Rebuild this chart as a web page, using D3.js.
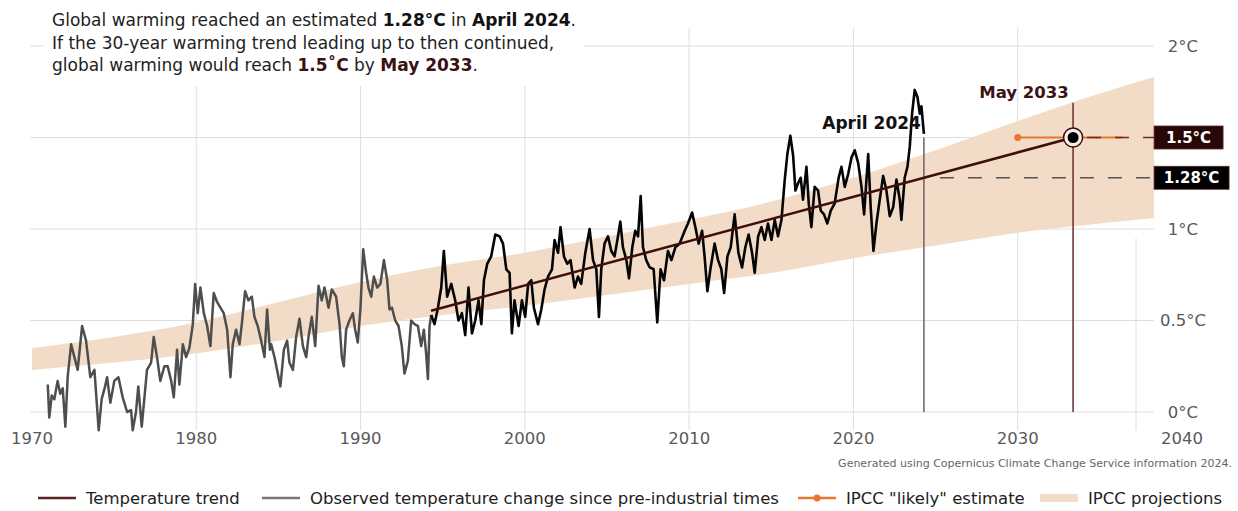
<!DOCTYPE html>
<html>
<head>
<meta charset="utf-8">
<script src="https://cdn.jsdelivr.net/npm/d3@7"></script>
<style>
  body { margin: 0; background: #fff; }
  svg { display: block; font-family: "DejaVu Sans", Verdana, sans-serif; }
</style>
</head>
<body>
<svg id="chart" width="1238" height="511"></svg>
<script>
// Observed global temperature change vs. pre-industrial (°C), [decimal year, anomaly]
const observedEarly = [
  [1970.96,0.15],[1971.05,-0.03],[1971.2,0.09],[1971.36,0.07],[1971.56,0.17],[1971.72,0.10],[1971.87,0.13],
  [1972.03,-0.08],[1972.17,0.19],[1972.38,0.37],[1972.58,0.30],[1972.78,0.23],[1973.05,0.47],[1973.29,0.39],
  [1973.55,0.19],[1973.8,0.23],[1974.06,-0.10],[1974.24,0.07],[1974.45,0.14],[1974.57,0.19],[1974.77,0.05],
  [1975.01,0.17],[1975.26,0.19],[1975.52,0.08],[1975.79,0.00],[1976.03,0.01],[1976.13,-0.10],[1976.33,0.00],
  [1976.47,0.14],[1976.68,-0.08],[1977.0,0.23],[1977.25,0.27],[1977.41,0.41],[1977.61,0.30],[1977.81,0.17],
  [1978.06,0.25],[1978.26,0.25],[1978.47,0.17],[1978.63,0.08],[1978.83,0.34],[1978.97,0.15],[1979.18,0.37],
  [1979.38,0.30],[1979.58,0.35],[1979.79,0.48],[1979.93,0.70],[1980.09,0.54],[1980.25,0.68],[1980.46,0.54],
  [1980.66,0.47],[1980.86,0.36],[1981.06,0.65],[1981.27,0.60],[1981.47,0.57],[1981.67,0.54],[1981.88,0.45],
  [1982.08,0.19],[1982.22,0.37],[1982.42,0.45],[1982.63,0.37],[1982.77,0.48],[1982.97,0.66],[1983.17,0.61],
  [1983.38,0.63],[1983.54,0.52],[1983.74,0.47],[1983.95,0.39],[1984.15,0.30],[1984.31,0.56],[1984.48,0.34],
  [1984.56,0.37],[1984.76,0.30],[1984.96,0.21],[1985.12,0.14],[1985.33,0.34],[1985.53,0.39],[1985.67,0.27],
  [1985.88,0.23],[1986.08,0.41],[1986.28,0.51],[1986.49,0.36],[1986.69,0.30],[1986.83,0.41],[1987.03,0.52],
  [1987.24,0.36],[1987.44,0.69],[1987.64,0.61],[1987.8,0.68],[1988.05,0.57],[1988.25,0.67],[1988.51,0.63],
  [1988.72,0.48],[1988.86,0.30],[1988.98,0.25],[1989.12,0.45],[1989.32,0.50],[1989.53,0.54],[1989.67,0.45],
  [1989.83,0.38],[1989.99,0.56],[1990.16,0.89],[1990.34,0.76],[1990.48,0.68],[1990.65,0.63],[1990.81,0.74],
  [1991.01,0.68],[1991.21,0.70],[1991.42,0.83],[1991.62,0.72],[1991.76,0.56],[1991.91,0.57],[1992.11,0.50],
  [1992.31,0.47],[1992.51,0.36],[1992.67,0.21],[1992.88,0.28],[1993.08,0.50],[1993.28,0.48],[1993.49,0.47],
  [1993.69,0.36],[1993.85,0.45],[1993.99,0.32],[1994.1,0.18],[1994.2,0.47],[1994.3,0.53]
];
const observedRecent = [
  [1994.3,0.53],[1994.5,0.48],[1994.71,0.57],[1994.91,0.68],[1995.07,0.88],[1995.27,0.63],[1995.52,0.70],
  [1995.76,0.61],[1995.96,0.50],[1996.17,0.54],[1996.37,0.42],[1996.57,0.68],[1996.78,0.43],[1996.98,0.50],
  [1997.18,0.61],[1997.35,0.48],[1997.51,0.72],[1997.71,0.81],[1997.95,0.85],[1998.2,0.97],[1998.46,0.96],
  [1998.67,0.92],[1998.87,0.78],[1999.07,0.76],[1999.21,0.43],[1999.37,0.61],[1999.62,0.47],[1999.82,0.61],
  [2000.02,0.52],[2000.2,0.70],[2000.39,0.72],[2000.55,0.57],[2000.8,0.48],[2001.0,0.56],[2001.2,0.67],
  [2001.41,0.74],[2001.65,0.78],[2001.81,0.94],[2002.02,0.87],[2002.17,1.01],[2002.38,0.85],[2002.58,0.81],
  [2002.78,0.83],[2003.03,0.68],[2003.23,0.74],[2003.43,0.70],[2003.68,0.87],[2003.94,1.00],[2004.15,0.83],
  [2004.35,0.78],[2004.51,0.52],[2004.65,0.78],[2004.85,0.92],[2005.06,0.96],[2005.26,0.88],[2005.46,0.85],
  [2005.67,0.96],[2005.81,1.04],[2005.97,0.90],[2006.18,0.83],[2006.34,0.73],[2006.54,0.90],[2006.72,0.99],
  [2006.89,0.96],[2007.05,1.18],[2007.19,0.90],[2007.39,0.83],[2007.6,0.79],[2007.84,0.78],[2008.06,0.49],
  [2008.26,0.78],[2008.47,0.72],[2008.71,0.88],[2008.92,0.83],[2009.16,0.90],[2009.42,0.92],[2009.73,0.99],
  [2009.93,1.03],[2010.18,1.09],[2010.38,1.01],[2010.58,0.92],[2010.79,0.99],[2010.94,0.85],[2011.11,0.66],
  [2011.31,0.79],[2011.55,0.92],[2011.76,0.83],[2011.96,0.78],[2012.13,0.65],[2012.33,0.85],[2012.53,0.90],
  [2012.77,1.08],[2013.0,0.87],[2013.22,0.79],[2013.42,0.90],[2013.62,0.97],[2013.83,0.87],[2013.99,0.76],
  [2014.2,0.96],[2014.4,1.01],[2014.6,0.94],[2014.8,1.03],[2015.01,0.94],[2015.21,1.05],[2015.41,0.96],
  [2015.62,1.05],[2015.82,1.27],[2015.98,1.41],[2016.16,1.51],[2016.33,1.40],[2016.47,1.21],[2016.63,1.25],
  [2016.79,1.28],[2016.93,1.16],[2017.14,1.34],[2017.28,1.14],[2017.44,1.01],[2017.64,1.23],[2017.85,1.21],
  [2018.01,1.10],[2018.21,1.08],[2018.41,1.03],[2018.62,1.10],[2018.86,1.14],[2019.1,1.28],[2019.27,1.34],
  [2019.47,1.23],[2019.68,1.30],[2019.88,1.39],[2020.08,1.43],[2020.29,1.36],[2020.49,1.23],[2020.65,1.08],
  [2020.9,1.41],[2021.05,1.12],[2021.22,0.88],[2021.4,1.03],[2021.6,1.16],[2021.81,1.29],[2022.01,1.21],
  [2022.21,1.07],[2022.42,1.12],[2022.62,1.27],[2022.82,1.16],[2022.92,1.05],[2023.12,1.28],[2023.29,1.34],
  [2023.43,1.45],[2023.57,1.63],[2023.73,1.76],[2023.9,1.72],[2024.04,1.63],[2024.14,1.67],[2024.29,1.52]
];

// 30-year linear trend, extended until it reaches 1.5 °C
const trendStart = [1994.29, 0.553];
const trendEnd = [2033.37, 1.5];

// IPCC projection range
const bandYears = [1970, 1975, 1980, 1985, 1990, 1995, 2000, 2005, 2010, 2015, 2020, 2025, 2030, 2035, 2038.3];
const bandLower = [0.23, 0.27, 0.32, 0.39, 0.47, 0.53, 0.58, 0.64, 0.70, 0.76, 0.84, 0.91, 0.98, 1.03, 1.06];
const bandUpper = [0.35, 0.41, 0.49, 0.60, 0.71, 0.80, 0.87, 0.96, 1.05, 1.15, 1.28, 1.43, 1.59, 1.74, 1.83];

// IPCC "likely" 1.5 °C crossing (from 2030)
const likelyYears = [2030, 2036.4];
const likelyLevel = 1.5;

// Key moments
const nowYear = 2024.29, nowLevel = 1.28, nowLabel = "April 2024";
const crossYear = 2033.37, crossLevel = 1.5, crossLabel = "May 2033", crossTop = 1.69;
const edgeRuleYear = 2037.2, edgeRuleTop = 0.95;

// Axes
const xTicks = [1970, 1980, 1990, 2000, 2010, 2020, 2030, 2040];
const yTicks = [0, 0.5, 1, 1.5, 2];
const yTickLabels = ["0°C", "0.5°C", "1°C", "", "2°C"];
const yDomain = [-0.1, 2.1];
const xPanelEnd = 2038.3;

const svg = d3.select("#chart");
const x = d3.scaleLinear().domain([1970, 2040]).range([32, 1182]);
const y = d3.scaleLinear().domain([0, 2]).range([412, 46]);

const C = {
  grid: "#dedede", band: "#f2dcc7", grey: "#4e4e4e", black: "#050505",
  trend: "#3e0d0d", maroon: "#6b2a2a", orange: "#e8772e", text: "#222", tick: "#5a5a5a"
};

// grid
const grid = svg.append("g");
grid.selectAll("line.h").data(yTicks).join("line")
  .attr("x1", x(1970) - 2).attr("x2", x(xPanelEnd))
  .attr("y1", d => y(d)).attr("y2", d => y(d))
  .attr("stroke", C.grid).attr("stroke-width", 1);
grid.selectAll("line.v").data(xTicks.filter(d => d > 1970 && d < 2040)).join("line")
  .attr("x1", d => x(d)).attr("x2", d => x(d))
  .attr("y1", y(yDomain[1])).attr("y2", y(yDomain[0]))
  .attr("stroke", C.grid).attr("stroke-width", 1);
grid.append("line")
  .attr("x1", x(edgeRuleYear)).attr("x2", x(edgeRuleYear))
  .attr("y1", y(edgeRuleTop)).attr("y2", y(yDomain[0]))
  .attr("stroke", C.grid).attr("stroke-width", 1);

// projection band
const bandData = bandYears.map((yr, i) => ({ yr, lo: bandLower[i], hi: bandUpper[i] }));
svg.append("path").datum(bandData)
  .attr("fill", C.band)
  .attr("d", d3.area().x(d => x(d.yr)).y0(d => y(d.lo)).y1(d => y(d.hi)).curve(d3.curveMonotoneX));

// vertical markers
svg.append("line")
  .attr("x1", x(nowYear)).attr("x2", x(nowYear))
  .attr("y1", y(1.5)).attr("y2", y(0))
  .attr("stroke", "#666").attr("stroke-width", 1.5);
svg.append("line")
  .attr("x1", x(crossYear)).attr("x2", x(crossYear))
  .attr("y1", y(crossTop)).attr("y2", y(0))
  .attr("stroke", C.maroon).attr("stroke-width", 1.5);

// 1.28 °C reference
svg.append("line")
  .attr("x1", x(nowYear) + 16).attr("x2", x(xPanelEnd))
  .attr("y1", y(nowLevel)).attr("y2", y(nowLevel))
  .attr("stroke", "#555").attr("stroke-width", 1.5).attr("stroke-dasharray", "14,14");

// observed series
const line = d3.line().x(d => x(d[0])).y(d => y(d[1]));
svg.append("path").datum(observedEarly)
  .attr("fill", "none").attr("stroke", C.grey).attr("stroke-width", 2.5)
  .attr("stroke-linejoin", "round").attr("d", line);
svg.append("path").datum(observedRecent)
  .attr("fill", "none").attr("stroke", C.black).attr("stroke-width", 2.6)
  .attr("stroke-linejoin", "round").attr("d", line);

// trend
svg.append("path").datum([trendStart, trendEnd])
  .attr("fill", "none").attr("stroke", C.trend).attr("stroke-width", 2.5).attr("d", line);

// IPCC likely estimate
svg.append("path").datum(likelyYears.map(yr => [yr, likelyLevel]))
  .attr("fill", "none").attr("stroke", C.orange).attr("stroke-width", 2).attr("d", line);
svg.append("circle").attr("cx", x(likelyYears[0])).attr("cy", y(likelyLevel)).attr("r", 3.5).attr("fill", C.orange);

// 1.5 °C reference from the crossing to the label
svg.append("line")
  .attr("x1", x(crossYear) + 14).attr("x2", x(xPanelEnd))
  .attr("y1", y(crossLevel)).attr("y2", y(crossLevel))
  .attr("stroke", C.maroon).attr("stroke-width", 1.5).attr("stroke-dasharray", "14,14");

// crossing marker
svg.append("circle").attr("cx", x(crossYear)).attr("cy", y(crossLevel)).attr("r", 9.5)
  .attr("fill", "#fbf1ea").attr("stroke", C.trend).attr("stroke-width", 1.5);
svg.append("circle").attr("cx", x(crossYear)).attr("cy", y(crossLevel)).attr("r", 5.5).attr("fill", "#000");

// moment labels
svg.append("text").attr("x", x(nowYear) - 3).attr("y", y(1.5) - 9)
  .attr("text-anchor", "end").attr("font-size", 17).attr("font-weight", "bold").attr("fill", "#111")
  .text(nowLabel);
svg.append("text").attr("x", x(crossYear) - 49).attr("y", y(crossTop) - 5)
  .attr("text-anchor", "middle").attr("font-size", 16.5).attr("font-weight", "bold").attr("fill", "#3a1414")
  .text(crossLabel);

// value boxes
function valueBox(level, label, fill, w) {
  const g = svg.append("g").attr("transform", `translate(${x(xPanelEnd)},${y(level)})`);
  g.append("rect").attr("x", 0).attr("y", -11.5).attr("width", w).attr("height", 23)
    .attr("fill", fill).attr("stroke", "#5a2a2a").attr("stroke-width", 0.8);
  g.append("text").attr("x", w / 2).attr("y", 0).attr("dy", "0.36em")
    .attr("text-anchor", "middle").attr("font-size", 15).attr("font-weight", "bold").attr("fill", "#fff")
    .text(label);
}
valueBox(crossLevel, "1.5°C", "#2a0707", 69);
valueBox(nowLevel, "1.28°C", "#000", 75);

// y tick labels
svg.append("g").selectAll("text").data(yTicks.map((v, i) => [v, yTickLabels[i]]).filter(d => d[1]))
  .join("text")
  .attr("x", 1183).attr("y", d => y(d[0])).attr("dy", "0.36em")
  .attr("text-anchor", "middle").attr("font-size", 16.5).attr("fill", C.tick)
  .text(d => d[1]);

// x tick labels
svg.append("g").selectAll("text").data(xTicks).join("text")
  .attr("x", d => x(d)).attr("y", 444)
  .attr("text-anchor", "middle").attr("font-size", 16.5).attr("fill", C.tick)
  .text(d => d);

// headline
svg.append("rect").attr("x", 44).attr("y", 4).attr("width", 540).attr("height", 82).attr("fill", "#fff");
const headline = [
  [["Global warming reached an estimated ", false, C.text], ["1.28°C", true, "#111"], [" in ", false, C.text], ["April 2024", true, "#111"], [".", false, C.text]],
  [["If the 30-year warming trend leading up to then continued,", false, C.text]],
  [["global warming would reach ", false, C.text], ["1.5˚C", true, "#3a1212"], [" by ", false, C.text], ["May 2033", true, "#3a1212"], [".", false, C.text]]
];
headline.forEach((parts, i) => {
  const t = svg.append("text").attr("x", 52).attr("y", 26 + i * 22.5).attr("font-size", 17).attr("fill", C.text);
  parts.forEach(p => t.append("tspan").attr("font-weight", p[1] ? "bold" : "normal").attr("fill", p[2]).text(p[0]));
});

// source note
svg.append("text").attr("x", 1232).attr("y", 467).attr("text-anchor", "end")
  .attr("font-size", 11).attr("fill", "#666")
  .text("Generated using Copernicus Climate Change Service information 2024.");

// legend
const legend = svg.append("g").attr("transform", "translate(0,498)");
const items = [
  { x: 38, label: "Temperature trend", color: "#5a2222", w: 2.5 },
  { x: 262, label: "Observed temperature change since pre-industrial times", color: "#777", w: 2.5 },
  { x: 798, label: "IPCC \"likely\" estimate", color: C.orange, w: 2.5, dot: true },
  { x: 1040, label: "IPCC projections", color: C.band, w: 8 }
];
items.forEach(it => {
  legend.append("line").attr("x1", it.x).attr("x2", it.x + 38).attr("y1", 0).attr("y2", 0)
    .attr("stroke", it.color).attr("stroke-width", it.w);
  if (it.dot) legend.append("circle").attr("cx", it.x + 19).attr("cy", 0).attr("r", 3.5).attr("fill", it.color);
  legend.append("text").attr("x", it.x + 48).attr("y", 0).attr("dy", "0.36em")
    .attr("font-size", 16.5).attr("fill", C.text).text(it.label);
});
</script>
</body>
</html>
